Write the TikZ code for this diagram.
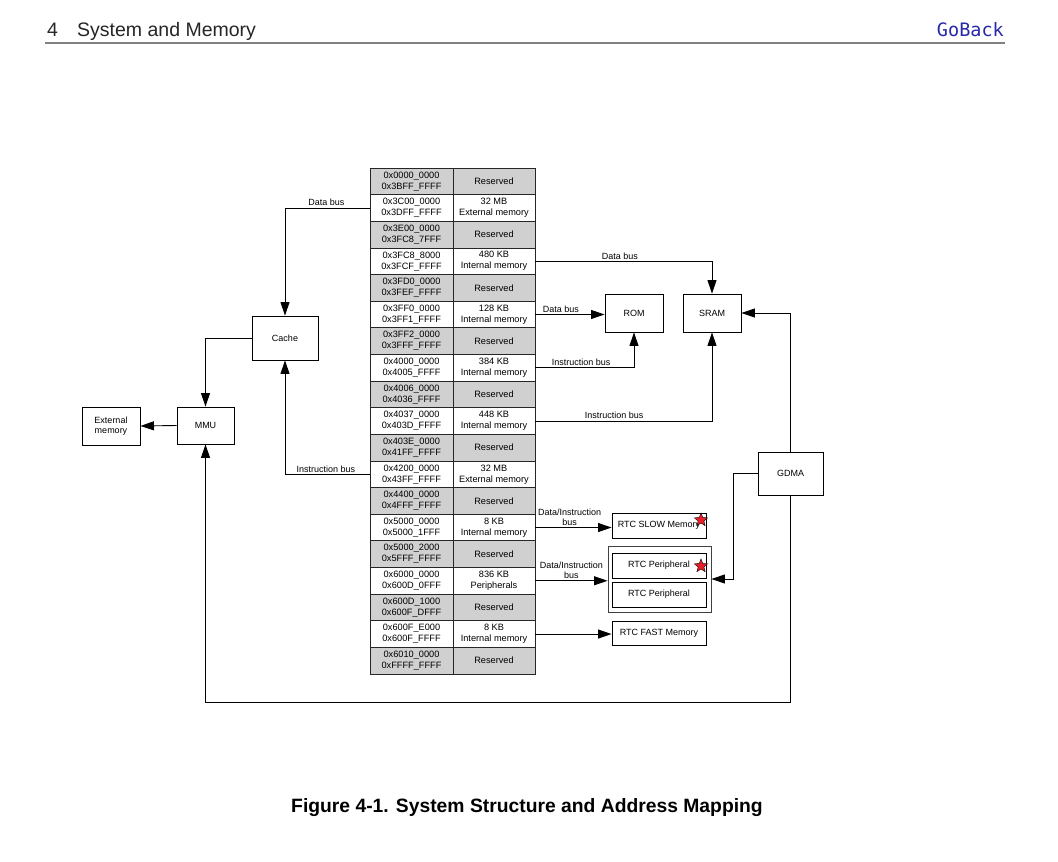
\documentclass[tikz,border=0pt]{standalone}
\usepackage{fontspec}
\setmainfont{Liberation Sans}
\setmonofont{DejaVu Sans Mono}
\usetikzlibrary{arrows.meta,shapes.geometric}

\definecolor{resgray}{RGB}{208,208,208}
\definecolor{linkblue}{RGB}{40,40,170}
\definecolor{starred}{RGB}{232,30,40}

\tikzset{
  box/.style={draw, line width=0.9pt, inner sep=0pt, align=center, font=\fontsize{9}{10.5}\selectfont},
  cell/.style={draw=black!85, line width=0.8pt, minimum height=26.63pt, inner sep=0pt, align=center, font=\fontsize{9.2}{11}\selectfont},
  bus/.style={line width=0.9pt, -{Triangle[length=13.5pt,width=9pt]}},
  lbl/.style={font=\fontsize{9}{10}\selectfont, inner sep=1.5pt, align=center},
  redstar/.style={star, star points=5, star point ratio=2.3, fill=starred, draw=black, line width=0.4pt, minimum size=14pt, inner sep=0pt}
}

\begin{document}
\begin{tikzpicture}[x=1pt,y=-1pt]

\fill[white] (0,0) rectangle (1058,862);
\useasboundingbox (0,0) rectangle (1058,862);

% page header
\node[anchor=base west, font=\fontsize{19.5}{20}\selectfont, text=black!85, inner sep=0pt] (chapno) at (47,36) {4};
\node[anchor=base west, font=\fontsize{19.5}{20}\selectfont, text=black!85, inner sep=0pt] (chapname) at (77,36) {System and Memory};
\node[anchor=base east, font=\ttfamily\fontsize{18.5}{20}\selectfont, text=linkblue, inner sep=0pt] (goback) at (1004,36) {GoBack};
\draw[black!50, line width=1.6pt] (45,43) -- (1005,43);

% address map
\foreach \i/\lo/\hi/\what/\shade in {
  1/0x0000\_0000/0x3BFF\_FFFF/Reserved/resgray,
  2/0x3C00\_0000/0x3DFF\_FFFF/{32 MB\\External memory}/white,
  3/0x3E00\_0000/0x3FC8\_7FFF/Reserved/resgray,
  4/0x3FC8\_8000/0x3FCF\_FFFF/{480 KB\\Internal memory}/white,
  5/0x3FD0\_0000/0x3FEF\_FFFF/Reserved/resgray,
  6/0x3FF0\_0000/0x3FF1\_FFFF/{128 KB\\Internal memory}/white,
  7/0x3FF2\_0000/0x3FFF\_FFFF/Reserved/resgray,
  8/0x4000\_0000/0x4005\_FFFF/{384 KB\\Internal memory}/white,
  9/0x4006\_0000/0x4036\_FFFF/Reserved/resgray,
  10/0x4037\_0000/0x403D\_FFFF/{448 KB\\Internal memory}/white,
  11/0x403E\_0000/0x41FF\_FFFF/Reserved/resgray,
  12/0x4200\_0000/0x43FF\_FFFF/{32 MB\\External memory}/white,
  13/0x4400\_0000/0x4FFF\_FFFF/Reserved/resgray,
  14/0x5000\_0000/0x5000\_1FFF/{8 KB\\Internal memory}/white,
  15/0x5000\_2000/0x5FFF\_FFFF/Reserved/resgray,
  16/0x6000\_0000/0x600D\_0FFF/{836 KB\\Peripherals}/white,
  17/0x600D\_1000/0x600F\_DFFF/Reserved/resgray,
  18/0x600F\_E000/0x600F\_FFFF/{8 KB\\Internal memory}/white,
  19/0x6010\_0000/0xFFFF\_FFFF/Reserved/resgray}
{
  \node[cell, minimum width=83pt, fill=\shade] (a\i) at (411.5, {168+26.63*\i-13.3}) {\lo\\\hi};
  \node[cell, minimum width=82pt, fill=\shade] (m\i) at (494, {168+26.63*\i-13.3}) {\what};
}

% left side
\node[box, minimum width=58pt, minimum height=38pt] (extmem) at (111,426) {External\\memory};
\node[box, minimum width=57pt, minimum height=37pt] (mmu) at (205.5,425.5) {MMU};
\node[box, minimum width=66pt, minimum height=44pt] (cache) at (285,338) {Cache};

% right side
\node[box, minimum width=58pt, minimum height=38pt] (rom) at (634,313) {ROM};
\node[box, minimum width=58pt, minimum height=38pt] (sram) at (712,313) {SRAM};
\node[box, minimum width=65pt, minimum height=43pt] (gdma) at (790.5,473.5) {GDMA};
\node[box, minimum width=94pt, minimum height=25pt] (rtcslow) at (659,525.5) {RTC SLOW Memory};
\node[box, draw=black!75, minimum width=103pt, minimum height=66pt] (rtcgroup) at (659.5,579) {};
\node[box, minimum width=94pt, minimum height=25pt] (rtcper) at (659,565.5) {RTC Peripheral};
\node[box, minimum width=94pt, minimum height=25pt] (rtcper2) at (659,594.5) {RTC Peripheral};
\node[box, minimum width=94pt, minimum height=24pt] (rtcfast) at (659,633) {RTC FAST Memory};

\node[redstar] (star1) at (701,520) {};
\node[redstar] (star2) at (701,566) {};

\coordinate (floor) at (0,702);

% buses
\draw[bus] (a2.west) -| node[lbl, above, pos=0.256] {Data bus} (cache.north);
\draw[bus] (a12.west) -| node[lbl, above, pos=0.259] {Instruction bus} (cache.south);
\draw[bus] (cache.west) -| (mmu.north);
\draw[bus] (mmu.west) -- (extmem.east);
\draw[bus] (gdma.south) |- (mmu.south |- floor) -- (mmu.south);

\draw[bus] (m4.east) -| node[lbl, above, pos=0.239] {Data bus} (sram.north);
\draw[bus] (m6.east) -- node[lbl, above, pos=0.37] {Data bus} (m6.east -| rom.west);
\draw[bus] (m8.east) -| node[lbl, above, pos=0.232] {Instruction bus} (rom.south);
\draw[bus] (m10.east) -| node[lbl, above, pos=0.223] {Instruction bus} (sram.south);
\draw[bus] (gdma.north) |- (sram.east);
\draw[bus] (gdma.west) -- ++(-24,0) |- (rtcgroup.east);

\draw[bus] (m14.east) -- node[lbl, above, pos=0.45] {Data/Instruction\\bus} (m14.east -| rtcslow.west);
\draw[bus] (m16.east) -- node[lbl, above, pos=0.5] {Data/Instruction\\bus} (m16.east -| rtcgroup.west);
\draw[bus] (m18.east) -- (m18.east -| rtcfast.west);

% caption
\node[font=\bfseries\fontsize{19.3}{21}\selectfont, inner sep=0pt] (caption) at (527,808) {Figure 4-1. System Structure and Address Mapping};

\end{tikzpicture}
\end{document}
